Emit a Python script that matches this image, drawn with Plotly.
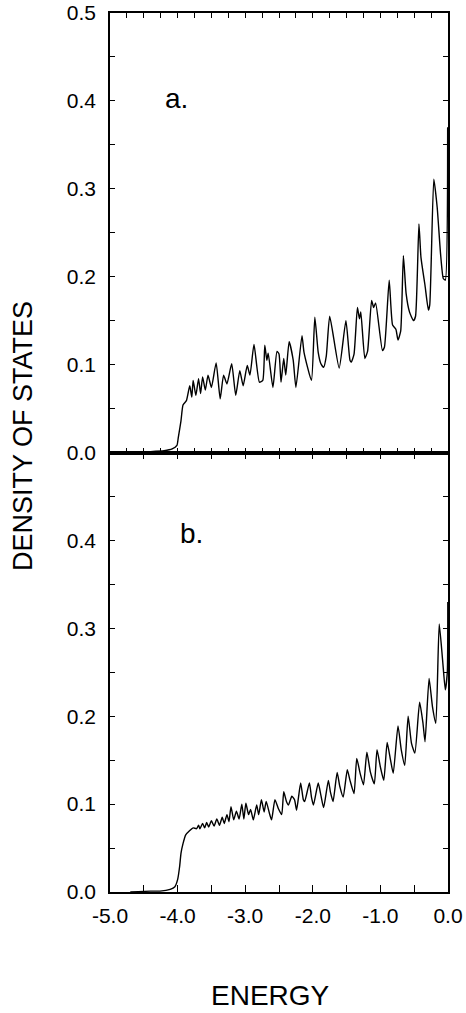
import plotly.graph_objects as go

# ---- data (panel a) ----
energy_a = [-4.70, -4.40, -4.20, -4.08, -4.01, -3.99, -3.95, -3.92, -3.87, -3.82,
            -3.79, -3.77, -3.73, -3.69, -3.66, -3.63, -3.59, -3.55, -3.50, -3.43,
            -3.37, -3.32, -3.27, -3.20, -3.14, -3.08, -3.03, -2.97, -2.93, -2.87,
            -2.79, -2.74, -2.71, -2.68, -2.66, -2.59, -2.53, -2.50, -2.47, -2.43,
            -2.40, -2.35, -2.29, -2.25, -2.16, -2.13, -2.02, -1.97, -1.92, -1.88,
            -1.84, -1.80, -1.75, -1.61, -1.51, -1.45, -1.43, -1.39, -1.34, -1.31,
            -1.29, -1.23, -1.19, -1.13, -1.10, -1.07, -0.97, -0.94, -0.87, -0.82,
            -0.77, -0.74, -0.70, -0.66, -0.62, -0.57, -0.51, -0.48, -0.43, -0.40,
            -0.34, -0.29, -0.27, -0.21, -0.16, -0.11, -0.07, -0.04, -0.005]
dos_a = [0.000, 0.001, 0.002, 0.004, 0.008, 0.017, 0.036, 0.054, 0.059, 0.076,
         0.063, 0.082, 0.065, 0.084, 0.067, 0.086, 0.071, 0.088, 0.074, 0.102,
         0.061, 0.088, 0.078, 0.101, 0.065, 0.093, 0.076, 0.099, 0.088, 0.123,
         0.080, 0.082, 0.122, 0.105, 0.113, 0.074, 0.115, 0.112, 0.080, 0.107,
         0.088, 0.126, 0.105, 0.074, 0.133, 0.114, 0.082, 0.154, 0.114, 0.101,
         0.097, 0.110, 0.155, 0.096, 0.150, 0.105, 0.103, 0.112, 0.165, 0.152,
         0.160, 0.107, 0.115, 0.173, 0.165, 0.170, 0.116, 0.120, 0.196, 0.145,
         0.140, 0.128, 0.138, 0.224, 0.181, 0.160, 0.150, 0.155, 0.260, 0.222,
         0.190, 0.162, 0.168, 0.311, 0.279, 0.226, 0.198, 0.196, 0.370]

# ---- data (panel b) ----
energy_b = [-4.70, -4.40, -4.26, -4.11, -4.04, -4.00, -3.97, -3.95, -3.92, -3.88,
            -3.82, -3.77, -3.72, -3.69, -3.67, -3.63, -3.60, -3.57, -3.54, -3.50,
            -3.46, -3.42, -3.38, -3.34, -3.31, -3.27, -3.24, -3.21, -3.17, -3.13,
            -3.09, -3.05, -3.02, -2.99, -2.95, -2.92, -2.88, -2.83, -2.80, -2.76,
            -2.72, -2.69, -2.64, -2.61, -2.56, -2.51, -2.46, -2.43, -2.39, -2.36,
            -2.31, -2.27, -2.24, -2.18, -2.14, -2.12, -2.05, -2.02, -1.99, -1.92,
            -1.88, -1.84, -1.77, -1.74, -1.70, -1.64, -1.60, -1.55, -1.49, -1.45,
            -1.39, -1.35, -1.30, -1.25, -1.20, -1.15, -1.09, -1.05, -1.00, -0.95,
            -0.90, -0.85, -0.81, -0.74, -0.69, -0.64, -0.59, -0.54, -0.49, -0.42,
            -0.37, -0.34, -0.28, -0.23, -0.18, -0.13, -0.08, -0.04, -0.01, -0.003]
dos_b = [0.000, 0.001, 0.001, 0.003, 0.006, 0.014, 0.029, 0.044, 0.055, 0.065,
         0.070, 0.073, 0.072, 0.076, 0.072, 0.078, 0.073, 0.079, 0.074, 0.081,
         0.075, 0.083, 0.076, 0.085, 0.078, 0.088, 0.080, 0.097, 0.082, 0.092,
         0.083, 0.100, 0.083, 0.101, 0.088, 0.094, 0.082, 0.099, 0.088, 0.105,
         0.091, 0.103, 0.089, 0.082, 0.105, 0.095, 0.088, 0.114, 0.103, 0.099,
         0.109, 0.105, 0.093, 0.124, 0.105, 0.103, 0.124, 0.108, 0.099, 0.124,
         0.110, 0.096, 0.127, 0.114, 0.103, 0.136, 0.120, 0.108, 0.139, 0.127,
         0.112, 0.152, 0.135, 0.122, 0.159, 0.137, 0.123, 0.162, 0.142, 0.127,
         0.170, 0.150, 0.135, 0.189, 0.161, 0.144, 0.200, 0.169, 0.158, 0.216,
         0.192, 0.171, 0.243, 0.211, 0.192, 0.305, 0.264, 0.230, 0.250, 0.330]

# ---- tick labels ----
y_tick_vals = [0.0, 0.05, 0.1, 0.15, 0.2, 0.25, 0.3, 0.35, 0.4, 0.45, 0.5]
y_text_top = ["0.0", "", "0.1", "", "0.2", "", "0.3", "", "0.4", "", "0.5"]
y_text_bottom = ["0.0", "", "0.1", "", "0.2", "", "0.3", "", "0.4", "", ""]
x_tick_vals = [-5.0, -4.5, -4.0, -3.5, -3.0, -2.5, -2.0, -1.5, -1.0, -0.5, 0.0]
x_tick_text = ["-5.0", "", "-4.0", "", "-3.0", "", "-2.0", "", "-1.0", "", "0.0"]
panel_labels = ["a.", "b."]
x_title = "ENERGY"
y_title = "DENSITY OF STATES"

FONT = "Liberation Sans, Arial, Helvetica, sans-serif"

fig = go.Figure()
fig.add_trace(go.Scatter(x=energy_a, y=dos_a, mode="lines", xaxis="x2", yaxis="y2",
                         line=dict(color="black", width=1.4, shape="spline", smoothing=0.5),
                         showlegend=False))
fig.add_trace(go.Scatter(x=energy_b, y=dos_b, mode="lines", xaxis="x", yaxis="y",
                         line=dict(color="black", width=1.4, shape="spline", smoothing=0.5),
                         showlegend=False))

axis_common = dict(showgrid=False, zeroline=False, showline=True, linecolor="black",
                   linewidth=1.5, ticks="inside", tickcolor="black", mirror="ticks",
                   automargin=False,
                   tickfont=dict(family=FONT, size=21, color="black"))

fig.update_layout(
    width=466, height=1013,
    margin=dict(l=110, r=18, t=13, b=121, autoexpand=False),
    paper_bgcolor="white", plot_bgcolor="white",
    xaxis=dict(domain=[0, 1], anchor="y", range=[-5, 0], tickvals=x_tick_vals,
               ticktext=x_tick_text, ticklen=7, tickwidth=1.3,
               ticklabelstandoff=4, **axis_common),
    xaxis2=dict(domain=[0, 1], anchor="y2", range=[-5, 0], tick0=-5, dtick=0.25,
                showticklabels=False, ticklen=5, tickwidth=1.2, **axis_common),
    yaxis=dict(domain=[0, 0.5], anchor="x", range=[0, 0.5], tickvals=y_tick_vals,
               ticktext=y_text_bottom, ticklen=5, tickwidth=1.2,
               ticklabelstandoff=8, **axis_common),
    yaxis2=dict(domain=[0.5, 1], anchor="x2", range=[0, 0.5], tickvals=y_tick_vals,
                ticktext=y_text_top, ticklen=5, tickwidth=1.2,
                ticklabelstandoff=8, **axis_common),
    annotations=[
        dict(text=panel_labels[0], x=-4.02, y=0.403, xref="x2", yref="y2",
             xanchor="center", yanchor="middle",
             showarrow=False, font=dict(family=FONT, size=28, color="black")),
        dict(text=panel_labels[1], x=-3.80, y=0.408, xref="x", yref="y",
             xanchor="center", yanchor="middle",
             showarrow=False, font=dict(family=FONT, size=28, color="black")),
        dict(text=x_title, x=0.475, y=-0.118, xref="paper", yref="paper",
             xanchor="center", yanchor="middle",
             showarrow=False, font=dict(family=FONT, size=28, color="black")),
        dict(text=y_title, x=-0.257, y=0.519, xref="paper", yref="paper",
             xanchor="center", yanchor="middle",
             textangle=-90, showarrow=False,
             font=dict(family=FONT, size=27, color="black")),
    ],
)

fig.write_html("out.html", config={"displayModeBar": False},
               post_script="document.body.style.margin='0';document.body.style.padding='0';")
